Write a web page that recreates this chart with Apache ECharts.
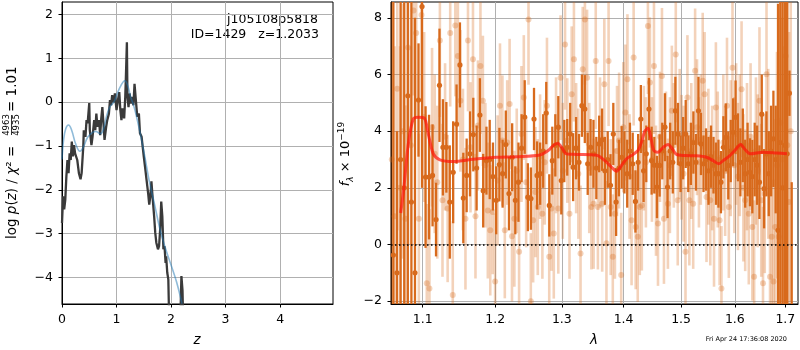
<!DOCTYPE html>
<html>
<head>
<meta charset="utf-8">
<script src="https://cdn.jsdelivr.net/npm/echarts@6/dist/echarts.min.js"></script>
<style>
  html, body { margin: 0; padding: 0; background: #fff; }
  #chart { width: 800px; height: 350px; }
</style>
</head>
<body>
<div id="chart"></div>
<script>
(function () {
  // --- left panel: log p(z) ---
  var zPdf = [0.00, 0.02, 0.04, 0.06, 0.08, 0.10, 0.12, 0.14, 0.16, 0.18, 0.20, 0.22, 0.24, 0.28, 0.31,
    0.34, 0.36, 0.39, 0.40, 0.43, 0.45, 0.47, 0.50, 0.51, 0.54, 0.56, 0.59, 0.61, 0.63, 0.65, 0.68,
    0.70, 0.72, 0.74, 0.76, 0.78, 0.81, 0.83, 0.86, 0.88, 0.90, 0.92, 0.95, 0.97, 1.00, 1.02, 1.05,
    1.07, 1.09, 1.11, 1.14, 1.16, 1.17, 1.19, 1.20, 1.22, 1.24, 1.26, 1.28, 1.31, 1.33, 1.36, 1.38,
    1.41, 1.43, 1.46, 1.48, 1.50, 1.53, 1.55, 1.58, 1.60, 1.62, 1.64, 1.66, 1.69, 1.71, 1.73, 1.76,
    1.78, 1.80, 1.82, 1.84, 1.86, 1.88, 1.90, 1.91, 1.93, 1.95, 1.96, 2.00, 2.10, 2.17, 2.19, 2.21,
    2.23, 2.30];
  var logPdf = [-2.76, -2.15, -2.45, -2.23, -1.70, -1.32, -1.62, -1.17, -1.32, -0.90, -1.24, -0.98, -1.17, -1.32, -1.62,
    -1.76, -1.62, -1.02, -0.64, -0.79, -0.41, -0.48, -0.02, -0.64, -0.98, -0.79, -0.41, -0.64, -0.26, -0.56, -0.41,
    -0.75, -0.37, -0.11, -0.48, -0.86, -0.56, -0.41, -0.26, 0.05, -0.07, 0.16, 0.00, 0.20, -0.18, 0.00, 0.23,
    -0.18, -0.41, -0.14, -0.37, 0.12, 0.50, 1.37, 0.12, -0.11, 0.20, -0.03, 0.12, -0.07, 0.42, -0.03, -0.33,
    -0.26, -0.71, -0.79, -1.02, -1.24, -1.55, -1.77, -2.08, -2.34, -2.15, -1.81, -2.15, -2.61, -2.98, -3.21, -3.36,
    -3.29, -2.91, -2.27, -2.61, -3.36, -3.29, -3.67, -3.52, -3.89, -4.05, -4.65, -5.6, -5.8, -5.0, -3.97, -4.3,
    -5.4, -6.5];
  var zFit = [0.00, 0.03, 0.07, 0.12, 0.18, 0.25, 0.33, 0.40, 0.47, 0.55, 0.62, 0.70, 0.76, 0.82, 0.88,
    0.95, 1.02, 1.08, 1.15, 1.20, 1.26, 1.32, 1.38, 1.45, 1.52, 1.60, 1.70, 1.80, 1.90, 2.00, 2.10, 2.20];
  var logFit = [-1.31, -0.85, -0.60, -0.52, -0.65, -0.95, -1.12, -1.00, -0.80, -0.70, -0.67, -0.72, -0.62, -0.30, -0.10,
    0.00, 0.22, 0.38, 0.49, 0.40, 0.12, -0.10, -0.40, -0.80, -1.25, -1.80, -2.35, -2.92, -3.35, -3.72, -4.10, -4.60];
  var zTicks = [0, 1, 2, 3, 4];
  var logpTicks = [-4, -3, -2, -1, 0, 1, 2];

  // --- right panel: spectrum (grism pixel grids) ---
  var darkStart = 1.062, darkStep = 0.00465;
  var darkFlux = [
    -0.37, -1.0, 3.0, 2.0, 5.25, 1.5, -1.0, 5.1, 8.4, 2.38,
    2.38, 2.44, 0.88, 5.62, 3.43, 3.43, 1.5, 2.55, 4.25, 6.34,
    1.64, 2.44, 3.2, 3.88, 2.7, 4.57, 1.9, 2.96, 3.0, 2.4,
    1.56, 2.82, 2.5, 3.53, 1.8, 3.08, 1.56, 2.2, 3.4, 4.5,
    1.67, 1.62, 4.43, 2.44, 2.5, 3.3, 4.64, 1.38, 2.96, 3.5,
    4.14, 2.26, 3.3, 3.43, 3.9, 2.73, 3.4, 2.9, 4.9, 4.78,
    2.85, 3.43, 3.2, 2.7, 3.55, 3.7, 2.6, 3.0, 2.09, 3.9,
    1.5, 2.7, 3.08, 2.9, 2.5, 3.3, 2.85, 1.52, 2.9, 4.43,
    2.6, 3.2, 4.78, 2.96, 2.8, 2.03, 2.79, 3.3, 4.14, 2.03,
    3.3, 2.9, 4.72, 3.9, 2.85, 3.4, 3.9, 2.85, 3.2, 3.6,
    2.9, 4.72, 3.55, 2.85, 3.0, 2.6, 3.1, 2.8, 2.5, 2.5,
    2.2, 3.43, 3.78, 2.79, 3.3, 3.96, 4.49, 3.43, 2.9, 3.5,
    2.5, 3.0, 2.55, 2.4, 3.0, 2.8, 2.2, 4.6, 1.97, 3.2,
    2.5, 3.3, 3.73, 3.0, 0.5, 3.6, 2.0, 3.5, 3.2, 5.34,
    -2.5];
  var darkErr = [
    12, 5.0, 12, 12, 10, 12, 9, 2.0, 6.4, 2.5,
    2.2, 1.8, 1.3, 2.0, 1.7, 1.6, 2.0, 1.8, 1.4, 1.5,
    1.6, 1.3, 1.5, 1.3, 1.5, 1.3, 1.3, 1.2, 1.4, 1.2,
    1.2, 1.3, 1.2, 1.2, 1.3, 1.2, 1.2, 1.4, 1.2, 1.3,
    1.2, 1.1, 1.1, 1.2, 1.1, 1.3, 1.1, 1.1, 1.2, 1.1,
    1.1, 1.2, 1.1, 1.0, 1.1, 1.2, 1.1, 1.0, 1.1, 1.2,
    1.1, 1.0, 1.2, 1.1, 1.0, 1.1, 1.2, 1.0, 1.1, 1.1,
    1.2, 1.0, 1.1, 1.1, 1.2, 1.0, 1.1, 1.1, 1.0, 1.2,
    1.1, 1.0, 1.1, 1.2, 1.0, 1.1, 1.1, 1.0, 1.2, 1.1,
    1.0, 1.1, 1.2, 1.1, 1.0, 1.1, 1.2, 1.0, 1.1, 1.1,
    1.0, 1.2, 1.1, 1.0, 1.1, 1.2, 1.1, 1.0, 1.1, 1.2,
    1.1, 1.1, 1.2, 1.2, 1.1, 1.2, 1.3, 1.2, 1.2, 1.3,
    1.2, 1.3, 1.2, 1.3, 1.3, 1.4, 1.3, 1.4, 1.4, 1.5,
    1.5, 1.6, 1.7, 1.9, 8, 10, 12, 12, 12, 0.8,
    4.7];
  var lightStart = 1.060, lightStep = 0.0035;
  var lightFlux = [
    3.0, 1.0, 5.5, 2.0, 4.0, 0.91, 6.95, 3.5, 8.26, 7.47,
    0.91, 8.1, 4.5, -1.37, -1.55, 4.14, 3.2, 2.2, 7.2, 1.56,
    3.8, 1.27, 7.47, -1.78, 7.73, 6.65, 5.07, 3.0, 0.91, 7.2,
    3.43, 6.54, 1.0, 4.2, 6.3, 5.07, 2.8, 1.2, 0.5, 1.15,
    -1.31, 2.26, 4.9, 3.67, 0.5, 3.6, 4.96, 0.29, 0.91, 2.6,
    -0.26, 3.9, 5.19, 2.2, 7.94, -2.0, 0.86, 1.85, 1.32, 3.1,
    1.09, 2.9, 4.9, -0.43, 1.27, 0.39, 3.5, 1.27, 5.89, 2.6,
    7.06, 3.67, 1.09, 5.3, 6.54, 3.4, 2.5, -0.32, 6.19, 7.94,
    5.89, 2.7, 1.32, 1.44, 6.48, 1.32, 3.6, 1.44, 5.66, 0.04,
    6.48, 1.32, -0.43, 1.09, 3.3, 3.67, -1.08, 4.14, 4.66, 5.83,
    2.4, 0.86, 6.6, 0.62, 0.27, 1.32, 1.38, 3.4, 2.9, 7.71,
    5.72, 3.0, 6.3, 1.9, 0.74, 3.8, 5.95, 0.91, 3.2, 1.44,
    2.8, 4.72, 3.5, 6.71, 1.56, 3.9, 3.08, 2.5, -0.26, 5.19,
    1.56, 3.3, 1.44, 6.13, 4.14, 2.9, 3.7, 5.78, 5.3, 1.68,
    3.1, 1.56, 2.7, 0.91, 4.84, 3.0, 0.86, -1.55, 3.6, 2.6,
    4.9, 1.32, 3.4, 6.24, 2.8, 3.9, 2.4, 3.5, 5.48, 2.0,
    1.56, 3.1, 1.09, 3.8, 0.62, -1.14, 3.3, 2.6, 5.07, 1.56,
    -1.37, 1.79, 6.01, 3.2, -1.14, 0.27, -1.31, 0.62, 2.8, 0.27,
    4.3, 3.0, 2.0, 6.65, 3.5, 1.5, 4.0];
  var lightErr = [
    6, 6, 5, 5, 4.5, 4, 3.5, 3.5, 3, 3,
    3, 3, 3, 2.8, 2.8, 2.8, 2.8, 2.7, 2.7, 2.7,
    2.6, 2.6, 2.6, 2.6, 2.5, 2.5, 2.5, 2.5, 2.5, 2.5,
    2.3, 2.4, 2.2, 2.3, 2.4, 2.3, 2.2, 2.4, 2.3, 2.2,
    2.4, 2.3, 2.2, 2.3, 2.4, 2.2, 2.3, 2.3, 2.4, 2.2,
    2.3, 2.4, 2.2, 2.3, 2.3, 2.4, 2.2, 2.3, 2.4, 2.2,
    2.3, 2.2, 2.4, 2.3, 2.2, 2.3, 2.4, 2.3, 2.2, 2.4,
    2.3, 2.2, 2.3, 2.4, 2.2, 2.3, 2.3, 2.4, 2.2, 2.3,
    2.4, 2.3, 2.2, 2.3, 2.4, 2.2, 2.3, 2.4, 2.3, 2.2,
    2.3, 2.4, 2.2, 2.3, 2.3, 2.4, 2.2, 2.3, 2.4, 2.3,
    2.2, 2.3, 2.4, 2.2, 2.3, 2.4, 2.3, 2.2, 2.3, 2.4,
    2.3, 2.2, 2.4, 2.3, 2.2, 2.3, 2.4, 2.3, 2.2, 2.3,
    2.4, 2.3, 2.2, 2.4, 2.3, 2.3, 2.2, 2.4, 2.3, 2.2,
    2.3, 2.4, 2.3, 2.2, 2.4, 2.3, 2.3, 2.4, 2.2, 2.3,
    2.4, 2.3, 2.2, 2.4, 2.3, 2.4, 2.3, 2.2, 2.4, 2.3,
    2.4, 2.5, 2.4, 2.5, 2.4, 2.5, 2.6, 2.5, 2.4, 2.6,
    2.5, 2.6, 2.5, 2.6, 2.6, 2.7, 2.6, 2.7, 2.6, 2.7,
    2.7, 2.8, 3, 3, 3.2, 3.4, 3.6, 3.8, 4, 4.2,
    4.5, 5, 5, 5.5, 6, 6, 6];
  var modelLam = [1.0714, 1.0756, 1.0812, 1.0877, 1.0943, 1.1022, 1.1075, 1.1142, 1.1231, 1.1412,
    1.1690, 1.2021, 1.2313, 1.2662, 1.2789, 1.2866, 1.2933, 1.2996, 1.3073, 1.3231, 1.3553,
    1.3688, 1.3799, 1.3882, 1.3965, 1.4049, 1.4161, 1.4246, 1.4304, 1.4361, 1.4418, 1.4465,
    1.4517, 1.4592, 1.4680, 1.4768, 1.4846, 1.4917, 1.5067, 1.5279, 1.5464, 1.5588, 1.5694,
    1.5777, 1.5903, 1.5999, 1.6114, 1.6190, 1.6302, 1.6550, 1.6818, 1.7032];
  var modelFlux = [1.11, 2.03, 3.55, 4.43, 4.49, 4.46, 3.90, 3.20, 2.99, 2.93,
    3.01, 3.08, 3.10, 3.16, 3.32, 3.49, 3.57, 3.43, 3.20, 3.18, 3.15,
    2.96, 2.73, 2.59, 2.79, 3.02, 3.18, 3.32, 3.61, 4.00, 4.10, 3.78,
    3.32, 3.26, 3.43, 3.53, 3.37, 3.18, 3.14, 3.13, 3.08, 2.96, 2.85,
    2.96, 3.14, 3.32, 3.53, 3.37, 3.20, 3.26, 3.23, 3.20];
  var lamTicks = [1.1, 1.2, 1.3, 1.4, 1.5, 1.6, 1.7];
  var fluxTicks = [-2, 0, 2, 4, 6, 8];
  var lamMin = 1.059, lamMax = 1.726;

  var FONT = 'DejaVu Sans';
  var DARK = '#d86a1c';

  function minus(v) { return String(v).replace('-', '\u2212'); }
  function pairs(xs, ys) { return xs.map(function (x, i) { return [x, ys[i]]; }); }
  function gridPoints(start, step, flux, err) {
    return flux.map(function (f, i) { return [Math.log(start + step * i), f, err[i]]; });
  }

  // vertical error bar + dot, clipped to the plot box
  function errRender(color, opacity, barWidth, radius) {
    return function (params, api) {
      var x = api.value(0), f = api.value(1), e = api.value(2);
      var cs = params.coordSys;
      var top = api.coord([x, f + e]);
      var bot = api.coord([x, f - e]);
      var mid = api.coord([x, f]);
      var children = [];
      if (mid[0] < cs.x || mid[0] > cs.x + cs.width) return { type: 'group', children: [] };
      var y1 = Math.max(cs.y, top[1]);
      var y2 = Math.min(cs.y + cs.height, bot[1]);
      if (y2 > y1) {
        children.push({ type: 'line', shape: { x1: mid[0], y1: y1, x2: mid[0], y2: y2 },
          style: { stroke: color, lineWidth: barWidth, opacity: opacity } });
      }
      if (mid[1] >= cs.y && mid[1] <= cs.y + cs.height) {
        children.push({ type: 'circle', shape: { cx: mid[0], cy: mid[1], r: radius },
          style: { fill: color, opacity: opacity } });
      }
      return { type: 'group', children: children };
    };
  }

  var tickStyle = { show: true, inside: false, length: 3.5, lineStyle: { color: '#000', width: 1 } };
  var gridLine = { show: true, lineStyle: { color: '#b0b0b0', width: 1 } };
  var labelStyle = { color: '#000', fontFamily: FONT, fontSize: 12.5, margin: 9 };

  function axis(extra) {
    var a = {
      type: 'value',
      axisLine: { show: true, onZero: false, lineStyle: { color: '#000', width: 1 } },
      splitLine: gridLine
    };
    for (var k in extra) a[k] = extra[k];
    return a;
  }

  var chart = echarts.init(document.getElementById('chart'), null, { renderer: 'canvas' });

  chart.setOption({
    animation: false,
    backgroundColor: '#fff',
    grid: [
      { left: 62, top: 2, width: 271, height: 302, show: true, borderColor: '#000', borderWidth: 1 },
      { left: 391, top: 2, width: 407, height: 302, show: true, borderColor: '#000', borderWidth: 1 }
    ],
    xAxis: [
      axis({ gridIndex: 0, min: 0, max: 4.97,
        axisTick: Object.assign({ customValues: zTicks }, tickStyle),
        axisLabel: Object.assign({ customValues: zTicks, formatter: minus }, labelStyle) }),
      axis({ gridIndex: 1, min: Math.log(lamMin), max: Math.log(lamMax),
        axisTick: Object.assign({ customValues: lamTicks.map(Math.log) }, tickStyle),
        axisLabel: Object.assign({ customValues: lamTicks.map(Math.log),
          formatter: function (v) { return Math.exp(v).toFixed(1); } }, labelStyle) })
    ],
    yAxis: [
      axis({ gridIndex: 0, min: -4.61, max: 2.29,
        axisTick: Object.assign({ customValues: logpTicks }, tickStyle),
        axisLabel: Object.assign({ customValues: logpTicks, formatter: minus }, labelStyle) }),
      axis({ gridIndex: 1, min: -2.1, max: 8.56,
        axisTick: Object.assign({ customValues: fluxTicks }, tickStyle),
        axisLabel: Object.assign({ customValues: fluxTicks, formatter: minus }, labelStyle) })
    ],
    series: [
      {
        type: 'line', xAxisIndex: 0, yAxisIndex: 0, data: pairs(zPdf, logPdf),
        showSymbol: false, lineStyle: { color: '#3a3a3a', width: 2.3 }, z: 3
      },
      {
        type: 'line', xAxisIndex: 0, yAxisIndex: 0, data: pairs(zFit, logFit), smooth: 0.4,
        showSymbol: false, lineStyle: { color: 'rgba(31,119,180,0.5)', width: 1.6 }, z: 4
      },
      {
        type: 'custom', xAxisIndex: 1, yAxisIndex: 1, z: 2,
        data: gridPoints(lightStart, lightStep, lightFlux, lightErr),
        encode: { x: 0, y: 1 },
        renderItem: errRender(DARK, 0.3, 2.6, 3)
      },
      {
        type: 'custom', xAxisIndex: 1, yAxisIndex: 1, z: 3,
        data: gridPoints(darkStart, darkStep, darkFlux, darkErr),
        encode: { x: 0, y: 1 },
        renderItem: errRender(DARK, 1, 2.3, 2.6)
      },
      {
        type: 'line', xAxisIndex: 1, yAxisIndex: 1, z: 4,
        data: pairs(modelLam.map(Math.log), modelFlux), smooth: 0.3, showSymbol: false,
        lineStyle: { color: 'rgba(255,20,10,0.7)', width: 3 },
        markLine: {
          silent: true, symbol: 'none', label: { show: false },
          lineStyle: { color: '#000', width: 1.5, type: [1.5, 2.5] },
          data: [{ yAxis: 0 }]
        }
      }
    ],
    graphic: [
      { type: 'text', x: 318, y: 20, style: { text: 'j105108p5818', fontFamily: FONT, fontSize: 12.5,
        fill: '#000', align: 'right', verticalAlign: 'middle' } },
      { type: 'text', x: 319, y: 34.5, style: { text: 'ID=1429   z=1.2033', fontFamily: FONT, fontSize: 12.5,
        fill: '#000', align: 'right', verticalAlign: 'middle' } },
      { type: 'text', x: 197, y: 340, style: { text: 'z', fontFamily: FONT, fontSize: 13.5, fontStyle: 'italic',
        fill: '#000', align: 'center', verticalAlign: 'middle' } },
      { type: 'text', x: 594, y: 340, style: { text: '\u03bb', fontFamily: FONT, fontSize: 13.5, fontStyle: 'italic',
        fill: '#000', align: 'center', verticalAlign: 'middle' } },
      { type: 'text', x: 787, y: 339, style: { text: 'Fri Apr 24 17:36:08 2020', fontFamily: FONT, fontSize: 6.5,
        fill: '#000', align: 'right', verticalAlign: 'middle' } },
      {
        type: 'group', x: 12.5, y: 239, rotation: Math.PI / 2,
        children: [
          { type: 'text', x: 0, y: 0, style: {
            text: '{r|log }{i|p}{r|(}{i|z}{r|) / }{i|\u03c7}{r|\u00b2 =}',
            align: 'left', verticalAlign: 'middle', fill: '#000',
            rich: {
              r: { fontFamily: FONT, fontSize: 13.5, fill: '#000' },
              i: { fontFamily: FONT, fontSize: 13.5, fontStyle: 'italic', fill: '#000' }
            } } },
          { type: 'text', x: 114, y: -6, style: { text: '4963', fontFamily: FONT, fontSize: 8.5, fill: '#000',
            align: 'center', verticalAlign: 'middle' } },
          { type: 'line', shape: { x1: 104, y1: -1, x2: 124, y2: -1 }, style: { stroke: '#000', lineWidth: 0.8 } },
          { type: 'text', x: 114, y: 4, style: { text: '4935', fontFamily: FONT, fontSize: 8.5, fill: '#000',
            align: 'center', verticalAlign: 'middle' } },
          { type: 'text', x: 127, y: 0, style: { text: '= 1.01', fontFamily: FONT, fontSize: 13.5, fill: '#000',
            align: 'left', verticalAlign: 'middle' } }
        ]
      },
      {
        type: 'group', x: 346, y: 154, rotation: Math.PI / 2,
        children: [
          { type: 'text', x: 0, y: 0, style: {
            text: '{i|f}{s|\u03bb}{r| \u00d7 10}{p|\u221219}',
            align: 'center', verticalAlign: 'middle', fill: '#000',
            rich: {
              r: { fontFamily: FONT, fontSize: 13, lineHeight: 18, fill: '#000' },
              i: { fontFamily: FONT, fontSize: 13, fontStyle: 'italic', lineHeight: 18, fill: '#000' },
              s: { fontFamily: FONT, fontSize: 9, fontStyle: 'italic', lineHeight: 10, verticalAlign: 'bottom', fill: '#000' },
              p: { fontFamily: FONT, fontSize: 9, lineHeight: 10, verticalAlign: 'top', fill: '#000' }
            } } }
        ]
      }
    ]
  });
})();
</script>
</body>
</html>
